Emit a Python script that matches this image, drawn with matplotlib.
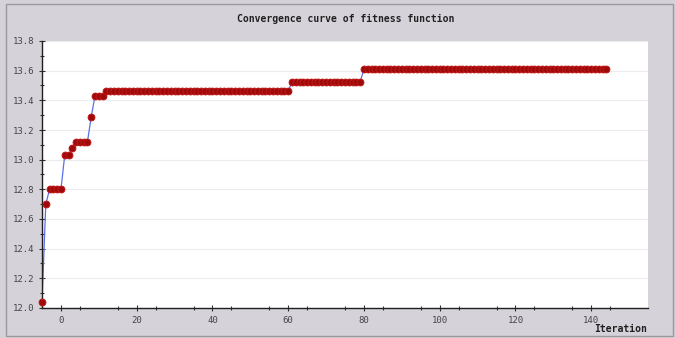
import matplotlib
matplotlib.use("Agg")
import matplotlib.pyplot as plt
from matplotlib.patches import Rectangle
from matplotlib.ticker import FixedLocator

# Data: plateau levels and how many iterations each lasts
iter_start = -5
levels = [12.04, 12.70, 12.80, 13.03, 13.08, 13.12, 13.29, 13.43, 13.46, 13.525, 13.61]
run_lengths = [1, 1, 4, 2, 1, 4, 1, 3, 49, 19, 65]

fitness = []
for lv, n in zip(levels, run_lengths):
    fitness.extend([lv] * n)
iterations = list(range(iter_start, iter_start + len(fitness)))

x_major = [0, 20, 40, 60, 80, 100, 120, 140]
x_minor = [5, 15, 25, 35, 45, 55, 65, 75, 85, 95, 105, 115, 125, 135, 145]
y_major = [12.0, 12.2, 12.4, 12.6, 12.8, 13.0, 13.2, 13.4, 13.6, 13.8]
y_minor = [12.1, 12.3, 12.5, 12.7, 12.9, 13.1, 13.3, 13.5, 13.7]

title = "Convergence curve of fitness function"
xlabel = "Iteration"

W, H = 675, 338
fig = plt.figure(figsize=(W / 100, H / 100), dpi=100)
bg = "#d5d3d9"
fig.patch.set_facecolor(bg)

# outer frame
fig.patches.append(Rectangle((6 / W, 2 / H), 667 / W, 332 / H, transform=fig.transFigure,
                             fill=False, edgecolor="#9a9a9e", lw=1.0))

ax = fig.add_axes([42 / W, (H - 308) / H, (648 - 42) / W, (308 - 41) / H])
ax.set_facecolor("white")

ax.plot(iterations, fitness, color="#5b6fe8", lw=0.9, zorder=2)
ax.plot(iterations, fitness, linestyle="none", marker="o", markersize=5.0,
        markerfacecolor="#9e0a0a", markeredgecolor="#c41818", markeredgewidth=0.6,
        zorder=3, clip_on=False)

ax.set_xlim(-5, 155)
ax.set_ylim(12.0, 13.8)

ax.xaxis.set_major_locator(FixedLocator(x_major))
ax.xaxis.set_minor_locator(FixedLocator(x_minor))
ax.yaxis.set_major_locator(FixedLocator(y_major))
ax.yaxis.set_minor_locator(FixedLocator(y_minor))
ax.set_xticklabels([str(v) for v in x_major])
ax.set_yticklabels([f"{v:.1f}" for v in y_major])

ax.grid(axis="y", which="major", color="#ececec", lw=0.8, zorder=0)
ax.set_axisbelow(True)

for s in ["top", "right"]:
    ax.spines[s].set_visible(False)
for s in ["left", "bottom"]:
    ax.spines[s].set_color("#202020")
    ax.spines[s].set_linewidth(1.0)

ax.tick_params(axis="both", which="major", direction="inout", length=5, width=0.8,
               color="#303030", labelcolor="#454545", labelsize=6.5)
ax.tick_params(axis="both", which="minor", direction="inout", length=3, width=0.8,
               color="#303030")
ax.tick_params(axis="x", pad=3)
ax.tick_params(axis="y", pad=3)
for lbl in ax.get_xticklabels() + ax.get_yticklabels():
    lbl.set_family("DejaVu Sans Mono")

fig.text(346 / W, 1 - 19 / H, title, ha="center", va="center",
         family="DejaVu Sans Mono", fontweight="bold", fontsize=7.0, color="#202020")
fig.text(647 / W, 1 - 329 / H, xlabel, ha="right", va="center",
         family="DejaVu Sans Mono", fontweight="bold", fontsize=7.0, color="#202020")

fig.savefig("out.png", dpi=100, facecolor=bg)
